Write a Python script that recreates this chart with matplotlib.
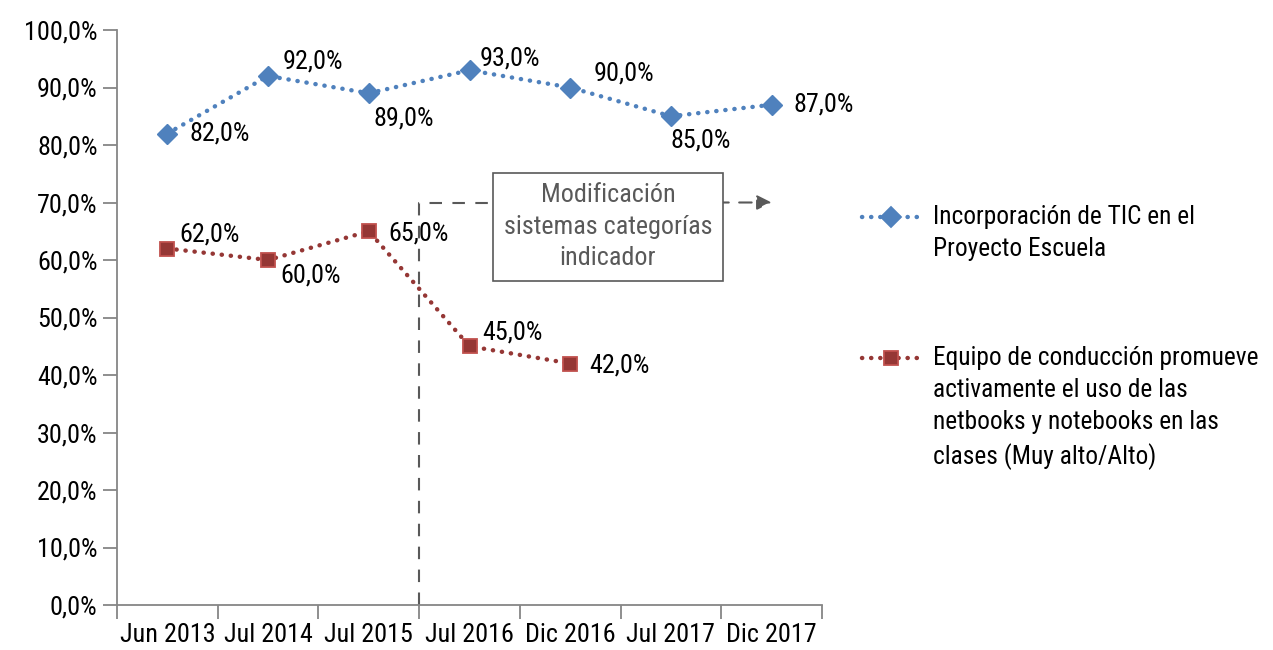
import matplotlib
matplotlib.use("Agg")
import matplotlib.pyplot as plt
from matplotlib.lines import Line2D
from matplotlib.ticker import FuncFormatter

plt.rcParams['font.family'] = ['Roboto Condensed', 'Archivo Narrow', 'Liberation Sans', 'DejaVu Sans']

periodos = ["Jun 2013", "Jul 2014", "Jul 2015", "Jul 2016", "Dic 2016", "Jul 2017", "Dic 2017"]
tic = [82, 92, 89, 93, 90, 85, 87]
equipo = [62, 60, 65, 45, 42]

lab_tic = "Incorporación de TIC en el\nProyecto Escuela"
lab_equipo = ("Equipo de conducción promueve\nactivamente el uso de las\n"
              "netbooks y notebooks en las\nclases (Muy alto/Alto)")
nota = "Modificación\nsistemas categorías\nindicador"

# label offsets (pixels) for the data labels
off_tic = [(22, 0), (15, 14), (5, -25), (10, 12), (23, 14), (0, -24), (22, 0)]
off_equipo = [(12, 14), (12, -16), (20, -2), (13, 14), (19, -2)]

azul = "#4F81BD"
rojo = "#953735"
gris = "#595959"
fs = 18.8

fig = plt.figure(figsize=(12.73, 6.5), dpi=100)
ax = fig.add_axes([117/1273, 45/650, (822-117)/1273, (605-30)/650])

x1 = list(range(len(tic)))
x2 = list(range(len(equipo)))
dot = (0, (0.05, 2.0))
ax.plot(x1, tic, color=azul, lw=3.2, ls=dot, dash_capstyle='round',
        marker='D', ms=10, mfc=azul, mec=azul, zorder=3)
ax.plot(x2, equipo, color=rojo, lw=3.2, ls=dot, dash_capstyle='round',
        marker='s', ms=10, mfc=rojo, mec="#C0504D", mew=1.3, zorder=3)

for xi, v, o in zip(x1, tic, off_tic):
    ax.annotate(f"{v:.1f}%".replace(".", ","), (xi, v), xytext=o,
                textcoords='offset pixels', fontsize=fs, va='center', ha='left')
for xi, v, o in zip(x2, equipo, off_equipo):
    ax.annotate(f"{v:.1f}%".replace(".", ","), (xi, v), xytext=o,
                textcoords='offset pixels', fontsize=fs, va='center', ha='left')

# cambio de metodologia
ax.plot([2.5, 2.5, 3.3], [0, 70, 70], color=gris, lw=1.5, ls=(0, (6, 5)), zorder=1)
ax.annotate("", xy=(6.0, 70), xytext=(5.45, 70),
            arrowprops=dict(arrowstyle='-|>', color=gris, lw=1.5, ls=(0, (6, 5)),
                            mutation_scale=22, shrinkA=0, shrinkB=0))
ax.text(4.375, 65.8, nota, fontsize=fs, color=gris, ha='center', va='center',
        linespacing=1.4,
        bbox=dict(boxstyle='square,pad=0.4', fc='white', ec=gris, lw=1.2))

ax.set_xlim(-0.5, 6.5)
ax.set_ylim(0, 100)
ax.set_xticks(x1)
ax.set_xticklabels(periodos, fontsize=fs)
ax.set_xticks([i + 0.5 for i in range(-1, 7)], minor=True)
ax.tick_params(axis='x', which='major', length=0, pad=13)
ax.tick_params(axis='x', which='minor', length=10, color='#868686', width=1.3)
ax.set_yticks(range(0, 101, 10))
ax.yaxis.set_major_formatter(FuncFormatter(lambda v, p: f"{v:.1f}%".replace(".", ",")))
ax.tick_params(axis='y', labelsize=fs, length=10, color='#868686', width=1.3, pad=4)
for s in ['top', 'right']:
    ax.spines[s].set_visible(False)
for s in ['left', 'bottom']:
    ax.spines[s].set_color('#868686')
    ax.spines[s].set_linewidth(1.3)

# leyenda
for yp, col, mk, mec, lab in [(217, azul, 'D', azul, lab_tic), (358, rojo, 's', "#C0504D", lab_equipo)]:
    yf = 1 - yp / 650
    fig.add_artist(Line2D([862/1273, 919/1273], [yf, yf], transform=fig.transFigure,
                          color=col, lw=3.2, ls=dot, dash_capstyle='round'))
    fig.add_artist(Line2D([891/1273], [yf], transform=fig.transFigure, marker=mk,
                          ms=10, mfc=col, mec=mec, mew=1.3, ls='none'))
    fig.text(933/1273, yf + 12/650, lab, fontsize=18.3, va='top', ha='left', linespacing=1.42,
             transform=fig.transFigure)

fig.savefig("out.png", dpi=100)
